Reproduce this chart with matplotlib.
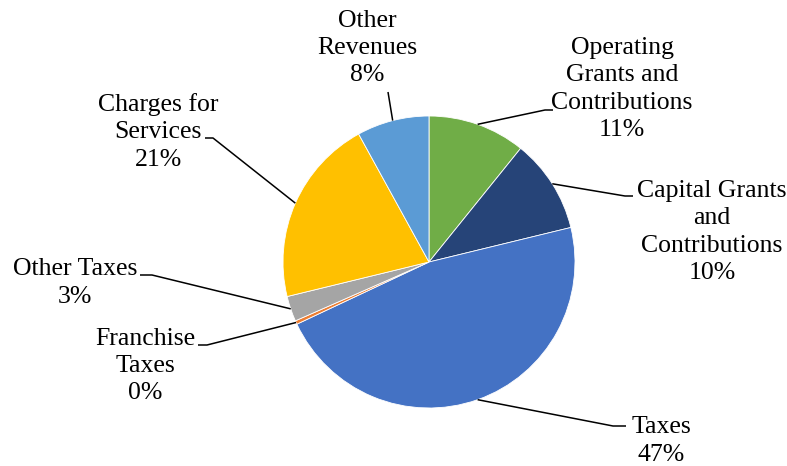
import numpy as np
import matplotlib.pyplot as plt

plt.rcParams['font.family'] = ['Liberation Serif', 'DejaVu Serif']

# Revenue sources (percent of total), clockwise from 12 o'clock
categories = [
    "Operating\nGrants and\nContributions",
    "Capital Grants\nand\nContributions",
    "Taxes",
    "Franchise\nTaxes",
    "Other Taxes",
    "Charges for\nServices",
    "Other\nRevenues",
]
shares = [10.8, 10.4, 46.8, 0.4, 2.8, 20.8, 8.0]
colors = ["#70AD47", "#264478", "#4472C4", "#ED7D31", "#A5A5A5", "#FFC000", "#5B9BD5"]

W, H = 787, 466
cx, cy, r = 429, H - 262, 146

# label centre, leader elbow and leader end (pixel coords, y down)
label_pos = [
    ((622, 89), (545, 110), (553, 110)),
    ((712, 232), (625, 196), (633, 196)),
    ((661, 441), (613, 426), (626, 426)),
    ((145, 366), (207, 345), (198, 345)),
    ((75, 283), (152, 275), (140, 275)),
    ((158, 132), (213, 138), (205, 138)),
    ((367, 48), (388, 92), (388, 92)),
]

fig = plt.figure(figsize=(W / 100, H / 100), dpi=100)
ax = fig.add_axes([0, 0, 1, 1])

wedges, _ = ax.pie(shares, colors=colors, startangle=90, counterclock=False,
                   center=(cx, cy), radius=r,
                   wedgeprops=dict(edgecolor="white", linewidth=0.6))

for w, cat, val, (txt, elbow, end) in zip(wedges, categories, shares, label_pos):
    mid = np.deg2rad((w.theta1 + w.theta2) / 2)
    sx, sy = cx + r * np.cos(mid), cy + r * np.sin(mid)
    ax.plot([sx, elbow[0], end[0]], [sy, H - elbow[1], H - end[1]],
            color="black", lw=1.1, solid_capstyle="butt")
    ax.text(txt[0], H - txt[1], f"{cat}\n{val:.0f}%", ha="center", va="center",
            multialignment="center", fontsize=18.5, linespacing=1.3)

ax.set_xlim(0, W)
ax.set_ylim(0, H)
ax.set_aspect("equal")
ax.axis("off")

fig.savefig("out.png", dpi=100, facecolor="white")
